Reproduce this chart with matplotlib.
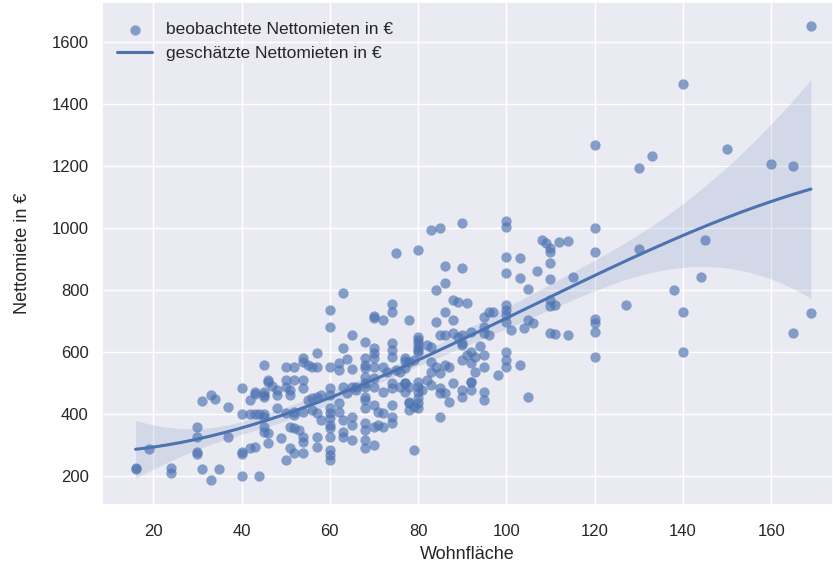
import numpy as np
import matplotlib
matplotlib.use("Agg")
import matplotlib.pyplot as plt
import seaborn as sns

wohnflaeche = [
    16, 16, 19, 24, 24, 30, 30, 30, 30, 31, 33, 34, 31, 35, 33, 37, 37, 40, 40, 40, 40, 40, 44, 42, 43, 43, 45, 45,
    42, 43, 44, 45, 45, 45, 42, 43, 46, 46,
    63, 60, 60, 65, 70, 68, 63, 57, 54, 54, 50, 52, 55, 56, 57, 60, 62, 62, 64, 65, 68, 68, 46, 47, 50, 50, 52, 54,
    45, 45, 48, 48, 51, 51, 54, 55, 56, 57, 58, 60, 60, 63, 65, 66, 68, 62, 45, 48, 50, 52, 52, 54, 56, 57, 58, 60,
    60, 60, 60, 62, 63, 65, 65, 68, 68, 46, 49, 51, 52, 53, 54, 54, 57, 60, 60, 63, 63, 65, 68, 68, 51, 52, 54, 57,
    60, 60, 60, 50, 64, 66,
    75, 80, 86, 90, 86, 84, 88, 89, 91, 74, 74, 70, 72, 78, 84, 86, 88, 80, 80, 85, 86, 88, 89, 90, 70, 70, 70, 70,
    74, 74, 74, 80, 80, 82, 83, 77, 78, 79, 83, 84, 85, 83, 86, 87, 90, 91, 68, 72, 73, 75, 76, 68, 68, 70, 70, 72,
    74, 74, 76, 77, 78, 80, 80, 80, 82, 83, 85, 86, 87, 88, 90, 90, 92, 68, 68, 68, 70, 71, 72, 74, 70, 71, 72, 74,
    74, 78, 78, 79, 80, 80, 70, 79, 85,
    83, 85, 80, 80, 90, 94, 77, 77, 77, 77, 78, 81, 80, 85,
    90, 100, 100, 108, 109, 110, 110, 112, 114, 100, 103, 100, 103, 107, 110, 110, 105, 100, 100, 100, 96, 97, 95,
    110, 110, 111, 100, 101, 95, 95, 96, 92, 104, 105, 106, 110, 111, 114, 90, 92, 93, 92, 95, 95, 100, 100, 100,
    103, 93, 92, 92, 98, 95, 95, 105,
    169, 140, 120, 133, 130, 150, 160, 165, 120, 130, 145, 120, 115, 144, 138, 127, 140, 169, 120, 120, 120, 165,
    140, 120,
]
nettomiete = [
    225, 220, 285, 225, 210, 358, 325, 275, 270, 440, 460, 448, 220, 220, 185, 423, 325, 482, 400, 275, 270, 200,
    200, 445, 470, 465, 460, 557, 400, 398, 398, 400, 358, 342, 288, 293, 305, 503,
    790, 735, 680, 655, 715, 633, 611, 597, 580, 568, 552, 552, 557, 550, 550, 550, 563, 541, 576, 543, 579, 547,
    509, 489, 509, 487, 509, 509, 471, 455, 460, 476, 476, 460, 482, 444, 450, 455, 460, 482, 460, 487, 487, 487,
    487, 434, 390, 417, 401, 407, 396, 407, 412, 401, 380, 417, 401, 385, 363, 407, 380, 363, 390, 347, 369, 337,
    320, 358, 353, 347, 326, 310, 326, 353, 326, 342, 326, 315, 315, 288, 288, 272, 272, 293, 283, 267, 250, 250,
    468, 478,
    918, 929, 877, 870, 823, 800, 767, 762, 759, 754, 730, 708, 703, 703, 697, 730, 703, 649, 638, 654, 654, 660,
    649, 654, 611, 595, 579, 552, 627, 606, 584, 617, 600, 622, 617, 579, 568, 573, 568, 552, 530, 536, 557, 552,
    573, 590, 557, 552, 536, 541, 536, 520, 498, 514, 487, 471, 498, 482, 487, 498, 487, 503, 487, 471, 509, 493,
    482, 466, 439, 498, 477, 455, 503, 455, 444, 417, 428, 406, 401, 428, 358, 363, 358, 390, 369, 434, 412, 423,
    434, 417, 299, 283, 390,
    994, 999, 627, 606, 622, 619, 571, 547, 500, 471, 439, 477, 450, 466,
    1015, 1024, 1002, 961, 950, 934, 924, 956, 959, 907, 902, 856, 837, 861, 888, 834, 802, 751, 735, 719, 730,
    730, 714, 767, 748, 751, 697, 670, 681, 660, 654, 665, 676, 703, 692, 662, 658, 654, 627, 600, 584, 563, 590,
    552, 600, 573, 552, 557, 536, 504, 477, 525, 471, 444, 455,
    1654, 1465, 1269, 1233, 1193, 1254, 1206, 1199, 999, 932, 961, 924, 843, 843, 800, 751, 730, 724, 705, 692,
    665, 660, 600, 584,
]

x_ticks = [20, 40, 60, 80, 100, 120, 140, 160]
y_ticks = [200, 400, 600, 800, 1000, 1200, 1400, 1600]

sns.set_theme(style="darkgrid")
plt.rcParams['font.family'] = ['Liberation Sans', 'DejaVu Sans']

x = np.asarray(wohnflaeche, dtype=float)
y = np.asarray(nettomiete, dtype=float)

# cubic regression with 95% confidence band (heteroscedasticity-robust, HC2)
order = 3
X = np.vander(x, order + 1)
XtX_inv = np.linalg.inv(X.T @ X)
beta = XtX_inv @ X.T @ y
resid = y - X @ beta
h = np.einsum('ij,jk,ik->i', X, XtX_inv, X)
w = resid ** 2 / (1 - h)
cov = XtX_inv @ (X.T * w) @ X @ XtX_inv
xg = np.linspace(x.min(), x.max(), 200)
Xg = np.vander(xg, order + 1)
yg = Xg @ beta
se = np.sqrt(np.einsum('ij,jk,ik->i', Xg, cov, Xg))
lo, hi = yg - 1.97 * se, yg + 1.97 * se

fig = plt.figure(figsize=(8.33, 5.66), dpi=100)
ax = fig.add_axes([0.1222, 0.1083, 0.8778, 0.8875])

c = sns.color_palette()[0]
sc = ax.scatter(x, y, s=55, color=c, alpha=0.65, linewidths=0,
                label="beobachtete Nettomieten in €")
ln, = ax.plot(xg, yg, color=c, lw=2.2, label="geschätzte Nettomieten in €")
ax.fill_between(xg, lo, hi, color=c, alpha=0.15, linewidth=0)

ax.set_xlim(8.35, 174.0)
ax.set_ylim(106, 1729)
ax.set_xticks(x_ticks)
ax.set_yticks(y_ticks)
ax.tick_params(axis='both', labelsize=12)
ax.tick_params(axis='x', pad=8)
ax.set_xlabel("Wohnfläche", fontsize=13, labelpad=5)
ax.set_ylabel("Nettomiete in €", fontsize=13, labelpad=15)
ax.legend(handles=[sc, ln], loc="upper left", bbox_to_anchor=(0, 0.992),
          frameon=False, fontsize=12.5)

fig.savefig("out.png", dpi=100)
